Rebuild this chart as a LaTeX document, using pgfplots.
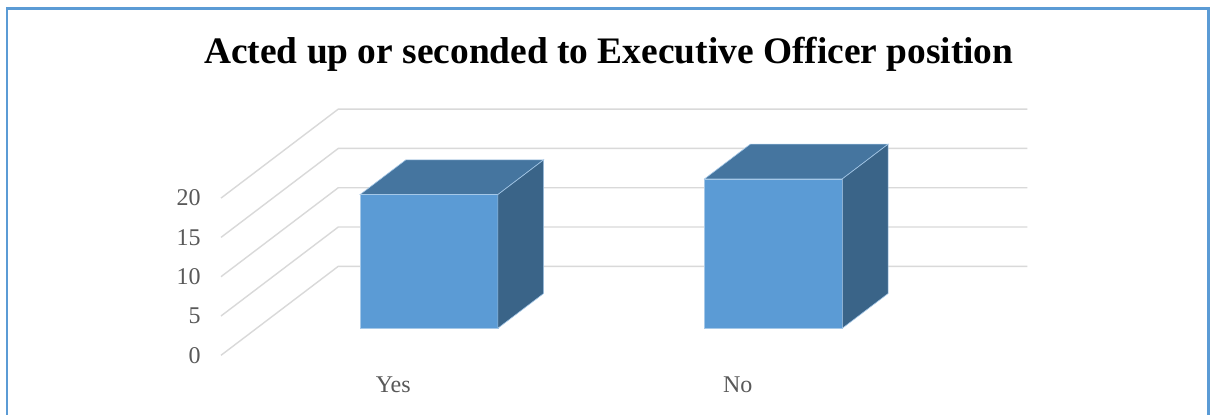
\documentclass[border=0pt]{standalone}
\usepackage{fontspec}
\setmainfont{Liberation Serif}
\usepackage{pgfplots}
\pgfplotsset{compat=1.18}
\definecolor{frontc}{HTML}{5B9BD5}
\definecolor{topc}{HTML}{45759F}
\definecolor{sidec}{HTML}{3A6488}
\definecolor{gridc}{HTML}{D9D9D9}
\definecolor{tickc}{HTML}{595959}
\definecolor{borderc}{HTML}{5B9BD5}
\begin{document}
\begin{tikzpicture}[x=0.5pt,y=0.5pt]
\useasboundingbox (0,0) rectangle (1210,414);
\clip (0,0) rectangle (1210,414);
\fill[white] (0,0) rectangle (1210,414);
\draw[borderc, line width=1.2pt] (7,-20) rectangle (1208.3,405.7);
\node[font=\fontsize{18.7}{22}\selectfont\bfseries, anchor=base, inner sep=0pt] at (608.8,350.7) {Acted up or seconded to Executive Officer position};
\begin{axis}[anchor=origin, at={(110.5pt,29.35pt)},
  x={(172.25pt,0pt)}, y={(58.65pt,44.5pt)}, z={(0pt,3.93pt)},
  xmin=0, xmax=2, ymin=0, ymax=1, zmin=0, zmax=20,
  hide axis, clip=false]
% gridlines (left wall + back wall)
\addplot3[gridc, line width=0.7pt] coordinates {(0,0,0) (0,1,0) (2,1,0)};
\addplot3[gridc, line width=0.7pt] coordinates {(0,0,5) (0,1,5) (2,1,5)};
\addplot3[gridc, line width=0.7pt] coordinates {(0,0,10) (0,1,10) (2,1,10)};
\addplot3[gridc, line width=0.7pt] coordinates {(0,0,15) (0,1,15) (2,1,15)};
\addplot3[gridc, line width=0.7pt] coordinates {(0,0,20) (0,1,20) (2,1,20)};
% Yes = 17
\addplot3[fill=frontc, draw=frontc!55!white, line width=0.3pt] coordinates {(0.3,0.305,0) (0.7,0.305,0) (0.7,0.305,17) (0.3,0.305,17)} -- cycle;
\addplot3[fill=topc, draw=frontc!55!white, line width=0.3pt] coordinates {(0.3,0.305,17) (0.7,0.305,17) (0.7,0.695,17) (0.3,0.695,17)} -- cycle;
\addplot3[fill=sidec, draw=frontc!55!white, line width=0.3pt] coordinates {(0.7,0.305,0) (0.7,0.695,0) (0.7,0.695,17) (0.7,0.305,17)} -- cycle;
% No = 19
\addplot3[fill=frontc, draw=frontc!55!white, line width=0.3pt] coordinates {(1.3,0.305,0) (1.7,0.305,0) (1.7,0.305,19) (1.3,0.305,19)} -- cycle;
\addplot3[fill=topc, draw=frontc!55!white, line width=0.3pt] coordinates {(1.3,0.305,19) (1.7,0.305,19) (1.7,0.695,19) (1.3,0.695,19)} -- cycle;
\addplot3[fill=sidec, draw=frontc!55!white, line width=0.3pt] coordinates {(1.7,0.305,0) (1.7,0.695,0) (1.7,0.695,19) (1.7,0.305,19)} -- cycle;
% value tick labels
\pgfplotsinvokeforeach{0,5,10,15,20}{
  \node[anchor=east, inner sep=0pt, text=tickc, font=\fontsize{12}{14}\selectfont, xshift=-10pt] at (axis cs:0,0,#1) {#1};
}
% category labels
\node[anchor=base, inner sep=0pt, text=tickc, font=\fontsize{12}{14}\selectfont, yshift=-18.5pt] at (axis cs:0.5,0,0) {Yes};
\node[anchor=base, inner sep=0pt, text=tickc, font=\fontsize{12}{14}\selectfont, yshift=-18.5pt] at (axis cs:1.5,0,0) {No};
\end{axis}
\end{tikzpicture}
\end{document}
